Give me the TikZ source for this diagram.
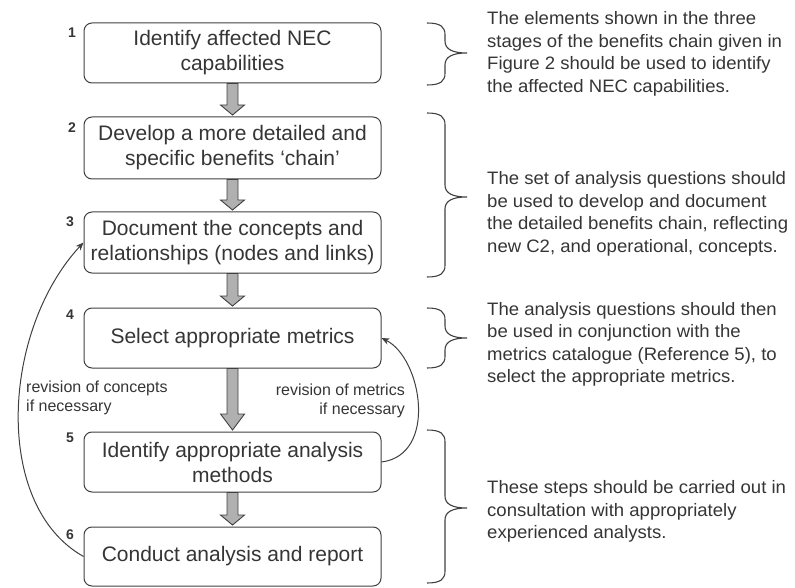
\documentclass[tikz,border=0pt]{standalone}
\usepackage{fontspec}
\setmainfont{Liberation Sans}
\newfontfamily\notefont[FakeStretch=1.03]{Liberation Sans}
\usetikzlibrary{calc,arrows.meta}

\definecolor{ink}{HTML}{353535}
\definecolor{linegray}{HTML}{404040}
\definecolor{arrowfill}{HTML}{B0B0B0}

% block arrow between two stacked boxes: #1 upper box, #2 lower box, #3 head length
\newcommand\blockarrow[3]{%
  \draw[barrow] let \p1=(#1.south), \p2=(#2.north) in
    (\x1-5.5pt,\y1) -- (\x1-5.5pt,\y2+#3+1.5pt) -- (\x1-12pt,\y2+#3+1.5pt)
    -- (\x1,\y2+1.5pt) -- (\x1+12pt,\y2+#3+1.5pt) -- (\x1+5.5pt,\y2+#3+1.5pt)
    -- (\x1+5.5pt,\y1) -- cycle;}

% right-facing curly brace: #1 top, #2 tip, #3 bottom
\newcommand\drawbrace[3]{%
  \draw[bracestyle] (427,#1) .. controls (441,#1) and (445,#1+4) .. (445,#1+12)
    -- (445,#2-12) .. controls (445,#2-4) and (452,#2) .. (467,#2)
    .. controls (452,#2) and (445,#2+4) .. (445,#2+12)
    -- (445,#3-12) .. controls (445,#3-4) and (441,#3) .. (427,#3);}

\begin{document}
\begin{tikzpicture}[x=1pt,y=-1pt,
  stepbox/.style={draw=linegray, line width=1pt, rounded corners=8pt,
    minimum width=297pt, inner sep=0pt, align=center, text=ink,
    font=\fontsize{21}{25}\selectfont},
  barrow/.style={draw=linegray, line width=0.9pt, fill=arrowfill, line join=miter},
  stepnum/.style={text=ink, font=\fontsize{14}{16}\selectfont\bfseries},
  loopline/.style={draw=linegray, line width=1pt, -{Stealth[length=8pt,width=6.5pt]}},
  looplabel/.style={text=ink, font=\fontsize{16}{19.5}\selectfont, inner sep=0pt},
  bracestyle/.style={draw=linegray, line width=1.1pt},
  note/.style={text=ink, align=left, anchor=west, inner sep=0pt,
    font=\notefont\fontsize{18}{22.5}\selectfont}]

\path[use as bounding box] (0,0) rectangle (795,588);

% process steps
\node[stepbox, minimum height=60pt] (b1) at (232.5,53)
  {Identify affected NEC\\capabilities};
\node[stepbox, minimum height=62pt] (b2) at (232.5,148)
  {Develop a more detailed and\\specific benefits `chain'};
\node[stepbox, minimum height=61pt] (b3) at (232.5,242.5)
  {Document the concepts and\\relationships (nodes and links)};
\node[stepbox, minimum height=60pt] (b4) at (232.5,338)
  {Select appropriate metrics};
\node[stepbox, minimum height=60pt] (b5) at (232.5,462)
  {Identify appropriate analysis\\methods};
\node[stepbox, minimum height=59pt] (b6) at (232.5,556.5)
  {Conduct analysis and report};

% step numbers
\node[stepnum] (n1) at (72,33) {1};
\node[stepnum] (n2) at (72,128) {2};
\node[stepnum] (n3) at (70,222) {3};
\node[stepnum] (n4) at (70,315) {4};
\node[stepnum] (n5) at (70,438) {5};
\node[stepnum] (n6) at (70,535) {6};

% flow between steps
\blockarrow{b1}{b2}{10pt}
\blockarrow{b2}{b3}{10pt}
\blockarrow{b3}{b4}{10pt}
\blockarrow{b4}{b5}{16pt}
\blockarrow{b5}{b6}{10pt}

% feedback loops
\draw[loopline] (b6.west) .. controls (-8,505) and (2,330) .. (b3.west);
\draw[loopline] (b5.east) .. controls (438,455) and (422,358) .. (b4.east);

\node[looplabel, anchor=west, align=left] (l1) at (26,398)
  {revision of concepts\\if necessary};
\node[looplabel, anchor=east, align=right] (l2) at (405,401)
  {revision of metrics\\if necessary};

% braces grouping the steps
\drawbrace{23}{53}{85}
\drawbrace{113}{197}{277}
\drawbrace{308}{338}{368}
\drawbrace{430}{508}{583}

% guidance notes
\node[note] (t1) at (487,54)
  {The elements shown in the three\\stages of the benefits chain given in\\Figure 2 should be used to identify\\the affected NEC capabilities.};
\node[note] (t2) at (487,214)
  {The set of analysis questions should\\be used to develop and document\\the detailed benefits chain, reflecting\\new C2, and operational, concepts.};
\node[note] (t3) at (487,344.5)
  {The analysis questions should then\\be used in conjunction with the\\metrics catalogue (Reference 5), to\\select the appropriate metrics.};
\node[note] (t4) at (487,511.5)
  {These steps should be carried out in\\consultation with appropriately\\experienced analysts.};

\end{tikzpicture}
\end{document}
